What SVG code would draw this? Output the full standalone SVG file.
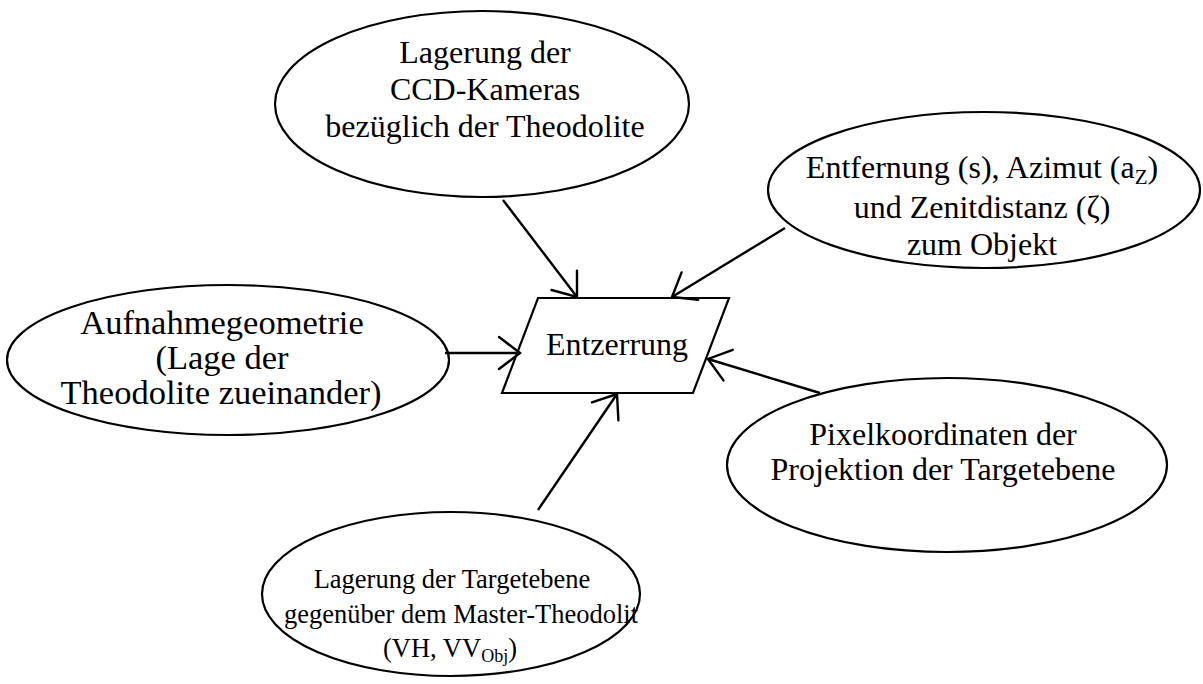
<svg xmlns="http://www.w3.org/2000/svg" width="1203" height="684" viewBox="0 0 1203 684">
  <style>
    .node { fill: #ffffff; stroke: #000000; stroke-width: 2.2; }
    .label { font-family: "Liberation Serif", "Times New Roman", serif; font-size: 32px; fill: #000000; text-anchor: middle; }
    .large { font-size: 34.5px; }
    .small { font-size: 26.5px; }
    .sub { font-size: 21px; }
    .small .sub { font-size: 18px; }
    .link { fill: none; stroke: #000000; stroke-width: 2.4; marker-end: url(#head); }
  </style>
  <defs>
    <marker id="head" markerUnits="userSpaceOnUse" markerWidth="40" markerHeight="40" refX="0" refY="0" viewBox="-30 -20 32 40" orient="auto" overflow="visible">
      <path d="M -21 -16 L 0 0 L -21 16" fill="none" stroke="#000000" stroke-width="2.4" stroke-linecap="round" stroke-linejoin="miter"/>
    </marker>
  </defs>
  <rect width="1203" height="684" fill="#ffffff"/>

  <!-- central process: rectification -->
  <g id="entzerrung">
    <polygon class="node" points="538,298 729,298 693,393 502,393"/>
    <text class="label" x="617" y="355">Entzerrung</text>
  </g>

  <!-- camera mounting -->
  <g id="kameras">
    <ellipse class="node" cx="482" cy="104" rx="207" ry="93"/>
    <text class="label" x="485" y="63">Lagerung der</text>
    <text class="label" x="485" y="100">CCD-Kameras</text>
    <text class="label" x="485" y="137">bezüglich der Theodolite</text>
  </g>

  <!-- distance, azimuth, zenith distance -->
  <g id="polar">
    <ellipse class="node" cx="984" cy="190" rx="216" ry="78"/>
    <text class="label" x="982" y="178">Entfernung (s), Azimut (a<tspan class="sub" dy="6">Z</tspan><tspan dy="-6">)</tspan></text>
    <text class="label" x="982" y="218">und Zenitdistanz (ζ)</text>
    <text class="label" x="982" y="255">zum Objekt</text>
  </g>

  <!-- recording geometry -->
  <g id="geometrie">
    <ellipse class="node" cx="228" cy="360" rx="221" ry="75"/>
    <text class="label large" x="222" y="334">Aufnahmegeometrie</text>
    <text class="label large" x="222" y="369">(Lage der</text>
    <text class="label large" x="221" y="404">Theodolite zueinander)</text>
  </g>

  <!-- pixel coordinates -->
  <g id="pixel">
    <ellipse class="node" cx="947" cy="465" rx="220" ry="87"/>
    <text class="label" x="943" y="445">Pixelkoordinaten der</text>
    <text class="label" x="943" y="480">Projektion der Targetebene</text>
  </g>

  <!-- target plane mounting -->
  <g id="targetebene">
    <ellipse class="node" cx="451" cy="594" rx="189" ry="82"/>
    <g class="small">
      <text class="label small" x="452" y="588">Lagerung der Targetebene</text>
      <text class="label small" x="461" y="623">gegenüber dem Master-Theodolit</text>
      <text class="label small" x="450" y="657">(VH, VV<tspan class="sub" dy="5">Obj</tspan><tspan dy="-5">)</tspan></text>
    </g>
  </g>

  <!-- connectors -->
  <g id="connectors">
    <line class="link" x1="503" y1="200" x2="577" y2="297"/>
    <line class="link" x1="785" y1="228" x2="672" y2="297"/>
    <line class="link" x1="445" y1="353" x2="520" y2="353"/>
    <line class="link" x1="538" y1="510" x2="617" y2="394"/>
    <line class="link" x1="820" y1="393" x2="708" y2="359"/>
  </g>
</svg>
